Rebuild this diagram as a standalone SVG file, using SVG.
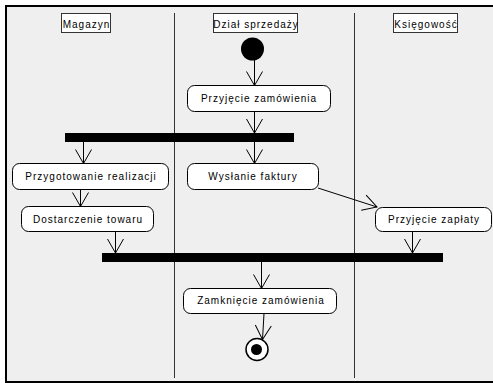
<svg xmlns="http://www.w3.org/2000/svg" width="493" height="383" viewBox="0 0 493 383">
<style>
.lbl{font-family:"Liberation Sans",Arial,sans-serif;font-size:10px;letter-spacing:1px;fill:#000;text-anchor:middle}
.act{fill:#fff;stroke:#000;stroke-width:1}
.hdr{fill:#fff;stroke:#333;stroke-width:1}
.lane{stroke:#333;stroke-width:1}
.bar{fill:#000}
.con{stroke:#000;stroke-width:1;fill:none;marker-end:url(#v)}
</style>
<defs>
<marker id="v" markerUnits="userSpaceOnUse" markerWidth="16" markerHeight="18" viewBox="0 0 16 18" refX="15" refY="9" orient="auto" overflow="visible">
<path d="M1,1 L15,9 L1,17" fill="none" stroke="#000" stroke-width="1"/>
</marker>
</defs>
<rect x="0" y="0" width="493" height="383" fill="#fff"/>
<rect x="6" y="6" width="490" height="376" fill="#efefef" stroke="#000" stroke-width="2"/>
<g id="lanes">
<line class="lane" x1="174.5" y1="13" x2="174.5" y2="378"/>
<line class="lane" x1="354.5" y1="13" x2="354.5" y2="378"/>
</g>
<g id="lane-magazyn"><rect class="hdr" x="61.5" y="13.5" width="49" height="19"/><text class="lbl" x="86.5" y="28">Magazyn</text></g>
<g id="lane-dzial"><rect class="hdr" x="213.5" y="13.5" width="84" height="19"/><text class="lbl" x="256" y="28">Dział sprzedaży</text></g>
<g id="lane-ksiegowosc"><rect class="hdr" x="393.5" y="13.5" width="64" height="19"/><text class="lbl" x="426" y="28">Księgowość</text></g>
<g id="start"><circle cx="252.5" cy="49" r="11.5" fill="#000"/></g>
<g id="przyjecie-zamowienia"><rect class="act" x="187.5" y="85.5" width="143" height="26" rx="7"/><text class="lbl" x="259" y="102">Przyjęcie zamówienia</text></g>
<g id="fork"><rect class="bar" x="65" y="133" width="229" height="9"/></g>
<g id="przygotowanie"><rect class="act" x="12.5" y="163.5" width="156" height="26" rx="7"/><text class="lbl" x="91" y="180">Przygotowanie realizacji</text></g>
<g id="wyslanie"><rect class="act" x="187.5" y="163.5" width="131" height="26" rx="7"/><text class="lbl" x="253" y="180">Wysłanie faktury</text></g>
<g id="dostarczenie"><rect class="act" x="21.5" y="206.5" width="132" height="25" rx="7"/><text class="lbl" x="88" y="222.5">Dostarczenie towaru</text></g>
<g id="przyjecie-zaplaty"><rect class="act" x="375.5" y="207.5" width="116" height="24" rx="7"/><text class="lbl" x="434" y="222.5">Przyjęcie zapłaty</text></g>
<g id="join"><rect class="bar" x="102" y="253" width="341" height="9"/></g>
<g id="zamkniecie"><rect class="act" x="183.5" y="288.5" width="153" height="25" rx="7"/><text class="lbl" x="261" y="304">Zamknięcie zamówienia</text></g>
<g id="end"><circle cx="257" cy="349.5" r="11" fill="#fff" stroke="#000" stroke-width="1.5"/><circle cx="256.5" cy="349.5" r="5.5" fill="#000"/></g>
<g id="connectors">
<line class="con" x1="254.5" y1="60" x2="254.5" y2="85.5"/>
<line class="con" x1="254.5" y1="111.5" x2="254.5" y2="133"/>
<line class="con" x1="83.5" y1="142" x2="83.5" y2="163.5"/>
<line class="con" x1="254.5" y1="142" x2="254.5" y2="163.5"/>
<line class="con" x1="80.5" y1="189.5" x2="80.5" y2="206.5"/>
<line class="con" x1="318" y1="188" x2="377" y2="207"/>
<line class="con" x1="115.5" y1="231.5" x2="115.5" y2="253"/>
<line class="con" x1="412.5" y1="231.5" x2="412.5" y2="253"/>
<line class="con" x1="261.5" y1="262" x2="261.5" y2="288.5"/>
<line class="con" x1="264" y1="313.5" x2="262.5" y2="339.5"/>
</g>
</svg>
